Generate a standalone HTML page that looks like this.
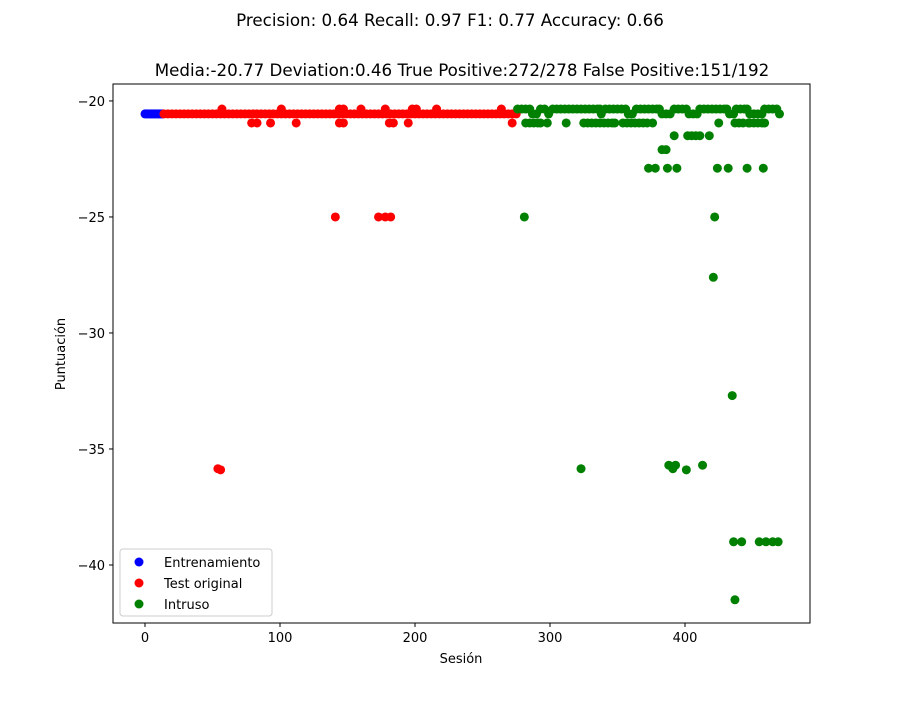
<!DOCTYPE html>
<html><head><meta charset="utf-8"><style>
body{margin:0;background:#fff;}
svg text{font-family:"DejaVu Sans","Liberation Sans",sans-serif;fill:#000;}
</style></head><body>
<svg id="chart" width="900" height="700" xmlns="http://www.w3.org/2000/svg">
<rect width="900" height="700" fill="#fff"/>
<text x="450" y="26" font-size="16.7" text-anchor="middle">Precision: 0.64 Recall: 0.97 F1: 0.77 Accuracy: 0.66</text>
<text x="462" y="76" font-size="16.7" text-anchor="middle">Media:-20.77 Deviation:0.46 True Positive:272/278 False Positive:151/192</text>
<g id="marks"></g>
<g id="axes"></g>
<text x="461" y="663" font-size="13" text-anchor="middle">Sesión</text>
<text x="0" y="0" font-size="13" text-anchor="middle" transform="translate(65,354) rotate(-90)">Puntuación</text>
<g>
<rect x="120" y="549" width="152" height="67" rx="3" fill="#fff" fill-opacity="0.8" stroke="#ccc"/>
<circle cx="139" cy="562" r="4.5" fill="#0000ff"/>
<text x="164" y="567" font-size="13">Entrenamiento</text>
<circle cx="139" cy="583" r="4.5" fill="#ff0000"/>
<text x="164" y="588" font-size="13">Test original</text>
<circle cx="139" cy="604" r="4.5" fill="#008000"/>
<text x="164" y="609" font-size="13">Intruso</text>
</g>
</svg>
<script>
const xTicks=[0,100,200,300,400];
const yTicks=[-20,-25,-30,-35,-40];
const yTickLabels=["\u221220","\u221225","\u221230","\u221235","\u221240"];
const trainX=[0,1,2,3,4,5,6,7,8,9,10,11,12,13];
const trainY=[-20.56,-20.56,-20.56,-20.56,-20.56,-20.56,-20.56,-20.56,-20.56,-20.56,-20.56,-20.56,-20.56,-20.56];
const testX=[14,17,20,23,26,29,32,35,38,41,44,47,50,53,56,59,62,65,68,71,74,77,80,83,86,89,92,95,98,101,104,107,110,113,116,119,122,125,128,131,134,137,140,143,146,149,152,155,158,161,164,167,170,173,176,179,182,185,188,191,194,197,200,203,206,209,212,215,218,221,224,227,230,233,236,239,242,245,248,251,254,257,260,263,266,269,272,275,
57,101,144,147,160,178,198,201,216,264,
79,83,93,112,144,147,181,184,195,272,
141,173,178,182,54,56];
const testY=[-20.56,-20.56,-20.56,-20.56,-20.56,-20.56,-20.56,-20.56,-20.56,-20.56,-20.56,-20.56,-20.56,-20.56,-20.56,-20.56,-20.56,-20.56,-20.56,-20.56,-20.56,-20.56,-20.56,-20.56,-20.56,-20.56,-20.56,-20.56,-20.56,-20.56,-20.56,-20.56,-20.56,-20.56,-20.56,-20.56,-20.56,-20.56,-20.56,-20.56,-20.56,-20.56,-20.56,-20.56,-20.56,-20.56,-20.56,-20.56,-20.56,-20.56,-20.56,-20.56,-20.56,-20.56,-20.56,-20.56,-20.56,-20.56,-20.56,-20.56,-20.56,-20.56,-20.56,-20.56,-20.56,-20.56,-20.56,-20.56,-20.56,-20.56,-20.56,-20.56,-20.56,-20.56,-20.56,-20.56,-20.56,-20.56,-20.56,-20.56,-20.56,-20.56,-20.56,-20.56,-20.56,-20.56,-20.56,-20.56,
-20.35,-20.35,-20.35,-20.35,-20.35,-20.35,-20.35,-20.35,-20.35,-20.35,
-20.95,-20.95,-20.95,-20.95,-20.95,-20.95,-20.95,-20.95,-20.95,-20.95,
-25,-25,-25,-25,-35.85,-35.9];
const intrX=[276,279,282,285,293,296,302,305,308,311,314,317,320,323,326,329,332,335,337,341,344,347,350,353,356,364,367,370,373,376,379,381,392,395,398,401,411,414,417,420,423,426,429,431,438,441,444,446,459,462,465,468,
287,290,299,338,358,361,383,386,389,403,406,409,433,436,448,451,454,457,470,
282,285,288,291,293,298,312,325,328,331,334,337,340,343,346,348,354,357,360,363,366,369,372,376,425,437,440,443,447,448,451,454,457,459,
392,402,405,408,411,418,
383,386,
373,378,387,394,424,432,446,458,
281,422,421,435,
388,393,413,391,401,323,
436,442,455,460,465,469,437];
const intrY=[-20.35,-20.35,-20.35,-20.35,-20.35,-20.35,-20.35,-20.35,-20.35,-20.35,-20.35,-20.35,-20.35,-20.35,-20.35,-20.35,-20.35,-20.35,-20.35,-20.35,-20.35,-20.35,-20.35,-20.35,-20.35,-20.35,-20.35,-20.35,-20.35,-20.35,-20.35,-20.35,-20.35,-20.35,-20.35,-20.35,-20.35,-20.35,-20.35,-20.35,-20.35,-20.35,-20.35,-20.35,-20.35,-20.35,-20.35,-20.35,-20.35,-20.35,-20.35,-20.35,
-20.56,-20.56,-20.56,-20.56,-20.56,-20.56,-20.56,-20.56,-20.56,-20.56,-20.56,-20.56,-20.56,-20.56,-20.56,-20.56,-20.56,-20.56,-20.56,
-20.95,-20.95,-20.95,-20.95,-20.95,-20.95,-20.95,-20.95,-20.95,-20.95,-20.95,-20.95,-20.95,-20.95,-20.95,-20.95,-20.95,-20.95,-20.95,-20.95,-20.95,-20.95,-20.95,-20.95,-20.95,-20.95,-20.95,-20.95,-20.95,-20.95,-20.95,-20.95,-20.95,-20.95,
-21.5,-21.5,-21.5,-21.5,-21.5,-21.5,
-22.1,-22.1,
-22.9,-22.9,-22.9,-22.9,-22.9,-22.9,-22.9,-22.9,
-25,-25,-27.6,-32.7,
-35.7,-35.7,-35.7,-35.85,-35.9,-35.85,
-39,-39,-39,-39,-39,-39,-41.5];
const NS="http://www.w3.org/2000/svg";
const L=113,R=810,T=84,B=623;
const xMin=-23.7,xMax=492.6,yMin=-42.5,yMax=-19.27;
function xs(v){return L+(v-xMin)/(xMax-xMin)*(R-L);}
function ys(v){return B-(v-yMin)/(yMax-yMin)*(B-T);}
const marks=document.getElementById('marks');
function series(X,Y,color,name){
  for(let i=0;i<X.length;i++){
    const c=document.createElementNS(NS,'circle');
    c.setAttribute('cx',xs(X[i]));c.setAttribute('cy',ys(Y[i]));
    c.setAttribute('r',4.5);c.setAttribute('fill',color);
    
    
    marks.appendChild(c);
  }
}
series(trainX,trainY,'#0000ff','train-point');
series(testX,testY,'#ff0000','test-point');
series(intrX,intrY,'#008000','intruder-point');
const axes=document.getElementById('axes');
const frame=document.createElementNS(NS,'rect');
frame.setAttribute('x',L);frame.setAttribute('y',T);frame.setAttribute('width',R-L);frame.setAttribute('height',B-T);
frame.setAttribute('fill','none');frame.setAttribute('stroke','#000');frame.setAttribute('stroke-width','1');


axes.appendChild(frame);
xTicks.forEach(v=>{
  const x=xs(v);
  const l=document.createElementNS(NS,'line');
  l.setAttribute('x1',x);l.setAttribute('x2',x);l.setAttribute('y1',B);l.setAttribute('y2',B+4);l.setAttribute('stroke','#000');
  
  
  axes.appendChild(l);
  const t=document.createElementNS(NS,'text');
  t.setAttribute('x',x);t.setAttribute('y',B+19);t.setAttribute('font-size','13');t.setAttribute('text-anchor','middle');
  t.textContent=v;
  
  
  axes.appendChild(t);
});
yTicks.forEach((v,i)=>{
  const y=ys(v);
  const l=document.createElementNS(NS,'line');
  l.setAttribute('x1',L-4);l.setAttribute('x2',L);l.setAttribute('y1',y);l.setAttribute('y2',y);l.setAttribute('stroke','#000');
  
  
  axes.appendChild(l);
  const t=document.createElementNS(NS,'text');
  t.setAttribute('x',L-8);t.setAttribute('y',y+5);t.setAttribute('font-size','13');t.setAttribute('text-anchor','end');
  t.textContent=yTickLabels[i];
  
  
  axes.appendChild(t);
});
</script>
</body></html>
